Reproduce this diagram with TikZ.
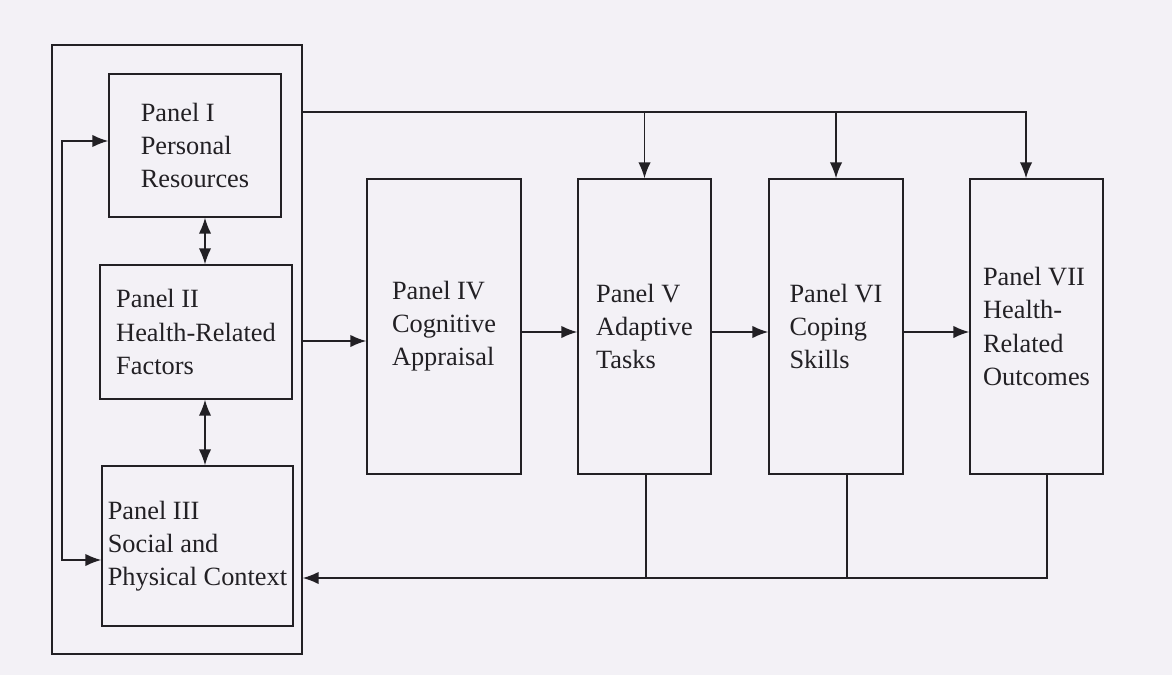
\documentclass[tikz,border=0pt]{standalone}
\usepackage{fontspec}
\setmainfont{Liberation Serif}
\usetikzlibrary{arrows.meta}
\definecolor{paper}{RGB}{243,241,246}
\definecolor{ink}{RGB}{34,32,36}
\begin{document}
\begin{tikzpicture}[x=0.02cm, y=-0.02cm, ink,
  panel/.style={draw, line width=0.9pt, inner sep=0pt, align=left,
    text=ink, font=\fontsize{15}{18.8}\selectfont},
  tall/.style={panel, minimum height=5.9cm},
  link/.style={line width=0.8pt},
  arr/.style={link, -{Latex[length=9pt, width=7pt]}},
  both/.style={link, {Latex[length=9pt, width=7pt]}-{Latex[length=9pt, width=7pt]}}]
\fill[paper] (0,0) rectangle (1172,675);
\useasboundingbox (0,0) rectangle (1172,675);
% left group
\node[panel, minimum width=5cm, minimum height=12.18cm] (outer) at (177,349.5){};
\node[panel, minimum width=3.44cm, minimum height=2.86cm] (p1) at (195,145.5){Panel I\\Personal\\Resources};
\node[panel, minimum width=3.84cm, minimum height=2.68cm] (p2) at (196,332){Panel II\\Health-Related\\Factors};
\node[panel, minimum width=3.82cm, minimum height=3.2cm] (p3) at (197.5,546){Panel III\\Social and\\Physical Context};
% process panels
\node[tall, minimum width=3.08cm] (p4) at (444,326.5){Panel IV\\Cognitive\\Appraisal};
\node[tall, minimum width=2.66cm] (p5) at (644.5,326.5){Panel V\\Adaptive\\Tasks};
\node[tall, minimum width=2.68cm] (p6) at (836,326.5){Panel VI\\Coping\\Skills};
\node[tall, minimum width=2.66cm] (p7) at (1036.5,326.5){Panel VII\\Health-\\Related\\Outcomes};
% helper points
\coordinate (top) at (1026,112);
\coordinate (in4) at (0,341);
\coordinate (row) at (0,332);
\coordinate (d5) at (646,578);
\coordinate (d6) at (847,578);
\coordinate (d7) at (1047,578);
\coordinate (loop) at (62,141);
\coordinate (loop2) at (62,560);
\coordinate (vx) at (205,0);
% connectors
\draw[arr] (outer.east |- top) -| (p7.north -| top);
\draw[arr] (p5.north |- top) -- (p5.north);
\draw[arr] (p6.north |- top) -- (p6.north);
\draw[arr] (outer.east |- in4) -- (p4.west |- in4);
\foreach \a/\b in {p4/p5,p5/p6,p6/p7}
  \draw[arr] (\a.east |- row) -- (\b.west |- row);
\draw[arr] (p7.south -| d7) -- (d7) -- (outer.east |- d7);
\draw[link] (p6.south -| d6) -- (d6);
\draw[link] (p5.south -| d5) -- (d5);
\draw[both] (p1.west |- loop) -- (loop) -- (loop2) -- (p3.west |- loop2);
\draw[both] (p1.south -| vx) -- (p2.north -| vx);
\draw[both] (p2.south -| vx) -- (p3.north -| vx);
\end{tikzpicture}
\end{document}
